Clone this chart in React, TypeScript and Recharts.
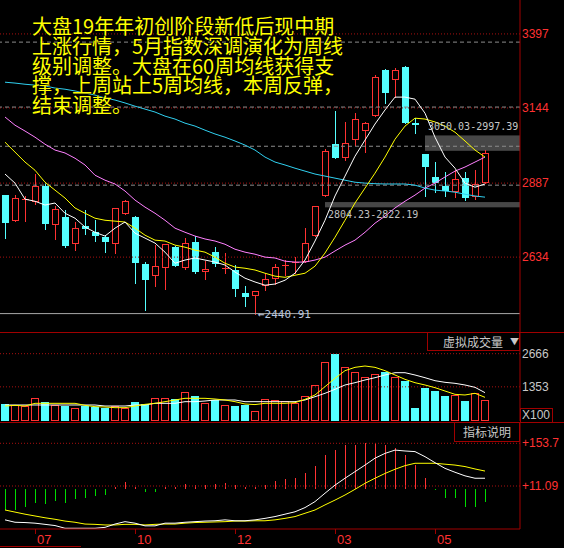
import React from 'react';
import {
  ComposedChart,
  Bar,
  Line,
  XAxis,
  YAxis,
  ReferenceLine,
  ReferenceArea,
  ReferenceDot,
} from 'recharts';

// weekly candles, oldest first
const opens = [2846, 2757, 2832, 2822, 2877, 2743, 2771, 2678, 2740, 2719, 2702, 2678, 2781, 2771, 2610, 2569, 2596, 2668, 2596, 2685, 2583, 2651, 2595, 2590, 2511, 2501, 2535, 2559, 2603, 2613, 2617, 2706, 2843, 3020, 2972, 3034, 3065, 3116, 3273, 3239, 3284, 3092, 2986, 2908, 2877, 2856, 2904, 2839, 2887];
const highs = [2848, 2846, 2843, 2918, 2890, 2808, 2795, 2754, 2795, 2761, 2709, 2802, 2829, 2774, 2617, 2675, 2678, 2672, 2699, 2706, 2620, 2668, 2648, 2607, 2535, 2518, 2579, 2610, 2624, 2634, 2733, 2808, 3003, 3133, 3096, 3126, 3095, 3256, 3277, 3280, 3288, 3109, 2986, 2959, 2925, 2931, 2925, 2931, 3000];
const lows = [2699, 2757, 2757, 2815, 2730, 2696, 2668, 2658, 2713, 2689, 2651, 2648, 2781, 2545, 2453, 2535, 2525, 2603, 2593, 2579, 2559, 2603, 2579, 2501, 2466, 2440.91, 2521, 2542, 2572, 2579, 2617, 2706, 2843, 2972, 2966, 3017, 2993, 3116, 3160, 3181, 3092, 3058, 2843, 2856, 2843, 2839, 2829, 2832, 2887];
const closes = [2750, 2836, 2833, 2877, 2747, 2798, 2672, 2733, 2730, 2706, 2685, 2802, 2825, 2613, 2555, 2603, 2678, 2603, 2682, 2583, 2593, 2610, 2597, 2525, 2497, 2518, 2559, 2600, 2606, 2617, 2682, 2808, 2996, 2972, 3024, 3106, 3092, 3249, 3195, 3273, 3092, 3085, 2942, 2887, 2860, 2901, 2836, 2884, 2990];

// moving averages of the close
const ma5 = [2918, 2887, 2832, 2825, 2812, 2819, 2784, 2767, 2737, 2719, 2706, 2733, 2754, 2716, 2699, 2682, 2651, 2613, 2624, 2631, 2624, 2617, 2607, 2583, 2562, 2549, 2538, 2542, 2555, 2579, 2624, 2689, 2760, 2843, 2911, 2979, 3034, 3089, 3137, 3181, 3181, 3174, 3126, 3044, 2976, 2938, 2887, 2873, 2884];
const ma10 = [3027, 2993, 2959, 2931, 2890, 2863, 2836, 2802, 2784, 2767, 2760, 2757, 2754, 2733, 2709, 2692, 2689, 2675, 2668, 2658, 2651, 2634, 2613, 2600, 2596, 2590, 2579, 2569, 2565, 2572, 2579, 2603, 2648, 2702, 2760, 2819, 2870, 2921, 2976, 3037, 3082, 3109, 3106, 3096, 3082, 3061, 3031, 3000, 2976];
const ma20 = [3113, 3085, 3065, 3044, 3020, 3000, 2990, 2972, 2949, 2914, 2897, 2884, 2860, 2829, 2805, 2784, 2760, 2733, 2719, 2706, 2696, 2689, 2678, 2661, 2651, 2644, 2634, 2631, 2620, 2617, 2617, 2624, 2634, 2655, 2675, 2692, 2719, 2750, 2774, 2802, 2825, 2846, 2870, 2887, 2908, 2928, 2942, 2959, 2976];
const ma60 = [3232, 3229, 3225, 3222, 3219, 3212, 3208, 3202, 3195, 3188, 3178, 3171, 3161, 3150, 3140, 3130, 3116, 3106, 3092, 3082, 3068, 3055, 3044, 3031, 3017, 3000, 2976, 2959, 2949, 2938, 2928, 2918, 2911, 2904, 2897, 2890, 2887, 2885, 2884, 2884, 2884, 2880, 2870, 2863, 2860, 2856, 2849, 2843, 2839];

// volume (x100) and its averages
const volumes = [673, 620, 594, 898, 752, 634, 594, 502, 594, 568, 528, 594, 502, 752, 673, 898, 898, 858, 1135, 990, 700, 832, 634, 594, 634, 396, 858, 818, 792, 726, 990, 1425, 2323, 2666, 2125, 1927, 1729, 1861, 1953, 1729, 1596, 528, 1295, 1188, 990, 1030, 792, 1097, 818];
const volMa5 = [594, 620, 594, 700, 700, 700, 700, 700, 620, 568, 554, 528, 528, 594, 660, 700, 765, 832, 898, 898, 898, 871, 832, 765, 673, 650, 700, 700, 700, 726, 858, 1030, 1360, 1690, 1993, 2125, 2178, 2125, 1993, 1822, 1650, 1517, 1426, 1320, 1188, 1056, 1030, 1097, 937];
const volMa10 = [634, 634, 634, 634, 634, 634, 634, 634, 634, 634, 594, 594, 594, 634, 634, 700, 700, 700, 765, 765, 792, 832, 832, 832, 765, 765, 765, 765, 765, 765, 832, 962, 1097, 1255, 1426, 1517, 1624, 1715, 1822, 1913, 1913, 1822, 1715, 1596, 1532, 1492, 1426, 1333, 1122];

// MACD
const macdHist = [-69, -69, -58, -45, -49, -38, -45, -33, -28, -21, -19, 9, 23, 9, -8, -9, 9, 9, 18, 14, 14, 18, 20, 14, 9, 9, 14, 28, 34, 39, 53, 78, 115, 131, 148, 148, 154, 154, 148, 137, 115, 81, 39, -2, -28, -28, -58, -58, -41];
const dif = [-102, -110, -111, -113, -117, -121, -130, -130, -130, -130, -127, -116, -108, -113, -122, -122, -113, -113, -110, -108, -106, -105, -102, -105, -105, -102, -97, -91, -83, -75, -61, -41, -13, 14, 37, 59, 81, 104, 120, 131, 128, 126, 109, 89, 70, 57, 45, 37, 37];
const dea = [-69, -76, -83, -89, -95, -100, -106, -110, -116, -117, -119, -119, -117, -117, -119, -117, -116, -116, -113, -111, -110, -109, -108, -106, -106, -105, -105, -102, -97, -91, -80, -69, -52, -36, -19, 0, 20, 37, 53, 67, 79, 87, 87, 87, 84, 81, 76, 68, 61];

const monthLabels = ['07', '10', '12', '03', '05'];
const monthIndex = [3, 13, 23, 33, 43];
const priceTicks = [2634, 2887, 3144, 3397];
const levelLines = [3369, 3147, 3013, 2880];
const volTicks = [1353, 2666];
const macdTicks = [11.09, 153.7];
const lowPoint = 2440.91;
const upperGap = [2997.39, 3050.03];
const lowerGap = [2804.23, 2822.19];
const PAD_WEEKS = 3;

const note = [
  '大盘19年年初创阶段新低后现中期',
  '上涨行情，5月指数深调演化为周线',
  '级别调整。大盘在60周均线获得支',
  '撑，上周站上5周均线，本周反弹，',
  '结束调整。',
];

const RED = '#ff3232';
const CYAN = '#54ffff';
const GREEN = '#00dc00';
const FRAME = '#a00000';
const DOTS = '#a81010';
const NUM_FONT = "'Liberation Sans', Arial, sans-serif";
const MONO = "'DejaVu Sans Mono', monospace";

const data: any[] = opens.map((open, i) => ({
  i,
  open,
  high: highs[i],
  low: lows[i],
  close: closes[i],
  range: [lows[i], highs[i]],
  ma5: ma5[i],
  ma10: ma10[i],
  ma20: ma20[i],
  ma60: ma60[i],
  vol: volumes[i],
  volMa5: volMa5[i],
  volMa10: volMa10[i],
  hist: macdHist[i],
  dif: dif[i],
  dea: dea[i],
}));
for (let k = 0; k < PAD_WEEKS; k++) data.push({ i: opens.length + k });

const Candle = (p: any) => {
  const { x, y, width, height, payload } = p;
  if (!payload || payload.open == null) return null;
  const { open, close, high, low } = payload;
  const up = close >= open;
  const c = up ? RED : CYAN;
  const k = height / Math.max(high - low, 1e-6);
  const py = (v: number) => y + (high - v) * k;
  const cx = Math.round(x + width / 2);
  const wx = cx + 0.5;
  const top = Math.round(y);
  const bot = Math.round(y + height);
  const bTop = Math.round(py(Math.max(open, close)));
  const bBot = Math.round(py(Math.min(open, close)));
  const left = cx - 3;
  if (up && bBot - bTop < 2) {
    return (
      <g shapeRendering="crispEdges">
        <line x1={wx} x2={wx} y1={top} y2={bot + 1} stroke={c} />
        <line x1={left} x2={left + 7} y1={bTop + 0.5} y2={bTop + 0.5} stroke={c} />
      </g>
    );
  }
  if (up) {
    return (
      <g shapeRendering="crispEdges">
        <line x1={wx} x2={wx} y1={top} y2={bTop} stroke={c} />
        <line x1={wx} x2={wx} y1={bBot} y2={bot + 1} stroke={c} />
        <rect x={left + 0.5} y={bTop + 0.5} width={6} height={bBot - bTop - 1} fill="#000" stroke={c} />
      </g>
    );
  }
  return (
    <g shapeRendering="crispEdges">
      <line x1={wx} x2={wx} y1={top} y2={bot + 1} stroke={c} />
      <rect x={left} y={bTop} width={7} height={Math.max(bBot - bTop, 1)} fill={c} />
    </g>
  );
};

const VolBar = (p: any) => {
  const { x, y, width, height, payload } = p;
  if (!payload || payload.vol == null) return null;
  const up = payload.close >= payload.open;
  const cx = Math.round(x + width / 2);
  const top = Math.round(y);
  const bot = Math.round(y + height);
  if (up) {
    return <rect x={cx - 3.5} y={top + 0.5} width={7} height={bot - top - 1} fill="#000" stroke={RED} shapeRendering="crispEdges" />;
  }
  return <rect x={cx - 4} y={top} width={8} height={bot - top} fill={CYAN} shapeRendering="crispEdges" />;
};

const HistBar = (p: any) => {
  const { x, y, width, height, payload } = p;
  if (!payload || payload.hist == null) return null;
  const cx = Math.round(x + width / 2) + 0.5;
  const y1 = Math.min(y, y + height);
  const y2 = Math.max(y, y + height);
  return <line x1={cx} x2={cx} y1={y1} y2={Math.max(y2, y1 + 1)} stroke={payload.hist >= 0 ? RED : GREEN} shapeRendering="crispEdges" />;
};

const makeTick = (color: string, prefix = '') => (p: any) => (
  <text x={p.x} y={p.y + 4} fill={color} fontSize={12} fontFamily={NUM_FONT} textAnchor="start">
    {prefix + p.payload.value}
  </text>
);

const MonthTick = (p: any) => {
  const { x, y, payload } = p;
  const at = monthIndex.indexOf(payload.value);
  if (at < 0) return null;
  const tx = Math.round(x) + 0.5;
  return (
    <g>
      <line x1={tx} x2={tx} y1={y} y2={y + 5} stroke={FRAME} />
      <text x={x + 2} y={y + 15} fill={RED} fontSize={13} fontFamily={NUM_FONT}>
        {monthLabels[at]}
      </text>
    </g>
  );
};

const GapShape = (p: any) => (
  <rect x={p.x + 5} y={p.y} width={p.width - 5} height={p.height} fill="#474747" />
);

const monoLabel = (text: string, dy: number, color: string, size = 10) => (p: any) => (
  <text x={p.viewBox.x + 3} y={p.viewBox.y + dy} fill={color} fontSize={size} fontFamily={MONO}>
    {text}
  </text>
);

const hline = (top: number, width = 564): React.CSSProperties => ({
  position: 'absolute', left: 0, top, width, height: 1, background: FRAME,
});

const maLine = (key: string, color: string) => (
  <Line
    dataKey={key}
    stroke={color}
    dot={false}
    activeDot={false}
    strokeWidth={1}
    isAnimationActive={false}
  />
);

export default function App() {
  return (
    <div style={{ position: 'absolute', left: 0, top: 0, width: 564, height: 548, background: '#000', overflow: 'hidden' }}>
      {/* price panel */}
      <div style={{ position: 'absolute', left: 0, top: 0 }}>
        <ComposedChart width={564} height={332} data={data} margin={{ top: 0, right: 0, bottom: 0, left: 0 }}>
          <XAxis dataKey="i" type="category" hide />
          <YAxis
            orientation="right"
            width={44}
            type="number"
            domain={[2378, 3513]}
            allowDataOverflow
            ticks={priceTicks}
            interval={0}
            tickSize={0}
            tickMargin={2}
            tickLine={false}
            axisLine={{ stroke: FRAME }}
            tick={makeTick(RED)}
          />
          <ReferenceArea x1={42} y1={upperGap[0]} y2={upperGap[1]} shape={GapShape} />
          <ReferenceArea x1={32} y1={lowerGap[0]} y2={lowerGap[1]} shape={GapShape} />
          {priceTicks.map(v => (
            <ReferenceLine key={'p' + v} y={v} stroke={DOTS} strokeDasharray="1 2" />
          ))}
          {levelLines.map(v => (
            <ReferenceLine key={'l' + v} y={v} stroke="#8c8c8c" strokeDasharray="4 3" />
          ))}
          <ReferenceLine y={lowPoint} stroke="#a8a8a8" />
          <Bar dataKey="range" barSize={8} shape={Candle} activeBar={false} isAnimationActive={false} />
          {maLine('ma60', '#30d0f0')}
          {maLine('ma20', '#ff80ff')}
          {maLine('ma10', '#ffff00')}
          {maLine('ma5', '#ffffff')}
          <ReferenceDot x={42} y={upperGap[1]} r={0} fill="none" stroke="none" label={monoLabel('3050.03-2997.39', -5, '#c8c8c8')} />
          <ReferenceDot x={32} y={lowerGap[0]} r={0} fill="none" stroke="none" label={monoLabel('2804.23-2822.19', 11, '#c0c0c0')} />
          <ReferenceDot x={25} y={lowPoint} r={0} fill="none" stroke="none" label={monoLabel('←2440.91', 4, '#b8c4dc', 11)} />
        </ComposedChart>
      </div>

      <div style={hline(332)} />

      {/* volume panel */}
      <div style={{ position: 'absolute', left: 0, top: 333 }}>
        <ComposedChart width={564} height={88} data={data} margin={{ top: 0, right: 0, bottom: 0, left: 0 }}>
          <XAxis dataKey="i" type="category" hide />
          <YAxis
            orientation="right"
            width={44}
            type="number"
            domain={[0, 3485]}
            allowDataOverflow
            ticks={volTicks}
            interval={0}
            tickSize={0}
            tickMargin={2}
            tickLine={false}
            axisLine={{ stroke: FRAME }}
            tick={makeTick('#c8c8c8')}
          />
          {volTicks.map(v => (
            <ReferenceLine key={'v' + v} y={v} stroke={DOTS} strokeDasharray="1 2" />
          ))}
          <Bar dataKey="vol" barSize={8} shape={VolBar} activeBar={false} isAnimationActive={false} />
          {maLine('volMa10', '#ffffff')}
          {maLine('volMa5', '#ffff00')}
        </ComposedChart>
      </div>

      <div style={hline(422)} />

      {/* MACD panel */}
      <div style={{ position: 'absolute', left: 0, top: 423 }}>
        <ComposedChart width={564} height={125} data={data} margin={{ top: 0, right: 0, bottom: 0, left: 0 }}>
          <XAxis
            dataKey="i"
            type="category"
            height={19}
            interval={0}
            tickSize={0}
            tickMargin={0}
            tickLine={false}
            axisLine={{ stroke: FRAME }}
            tick={MonthTick}
          />
          <YAxis
            orientation="right"
            width={44}
            type="number"
            domain={[-132.5, 221.5]}
            allowDataOverflow
            ticks={macdTicks}
            interval={0}
            tickSize={0}
            tickMargin={2}
            tickLine={false}
            axisLine={{ stroke: FRAME }}
            tick={makeTick(RED, '+')}
          />
          {macdTicks.map(v => (
            <ReferenceLine key={'m' + v} y={v} stroke={DOTS} strokeDasharray="1 2" />
          ))}
          <Bar dataKey="hist" barSize={8} shape={HistBar} activeBar={false} isAnimationActive={false} />
          {maLine('dea', '#ffff00')}
          {maLine('dif', '#ffffff')}
        </ComposedChart>
      </div>

      {/* panel captions */}
      <div style={{ position: 'absolute', left: 427, top: 333, width: 91, height: 17, border: `1px solid ${FRAME}`, borderTop: 'none', color: '#c8c8c8', fontSize: 12, fontFamily: "'Noto Sans CJK SC', sans-serif", lineHeight: '17px' }}>
        <span style={{ position: 'absolute', left: 15 }}>虚拟成交量</span>
        <span style={{ position: 'absolute', left: 82, fontSize: 9 }}>▼</span>
      </div>
      <div style={{ position: 'absolute', left: 454, top: 423, width: 64, height: 18, border: `1px solid ${FRAME}`, borderTop: 'none', color: '#c8c8c8', fontSize: 12, fontFamily: "'Noto Sans CJK SC', sans-serif", lineHeight: '18px', textAlign: 'center' }}>
        指标说明
      </div>
      <div style={{ position: 'absolute', left: 520, top: 408, width: 30, height: 13, border: `1px solid ${FRAME}`, color: '#c8c8c8', fontSize: 12, fontFamily: NUM_FONT, lineHeight: '13px', paddingLeft: 1 }}>
        X100
      </div>
      <div style={{ position: 'absolute', left: 0, top: 546, width: 81, height: 1, background: FRAME }} />

      {/* commentary */}
      <div style={{ position: 'absolute', left: 32, top: 16, color: '#ffff00', fontSize: 20, lineHeight: '19.8px', fontFamily: "'Noto Sans CJK SC', sans-serif", whiteSpace: 'pre', textShadow: '0 0 1px #000, 0 0 1px #000' }}>
        {note.join('\n')}
      </div>
    </div>
  );
}
